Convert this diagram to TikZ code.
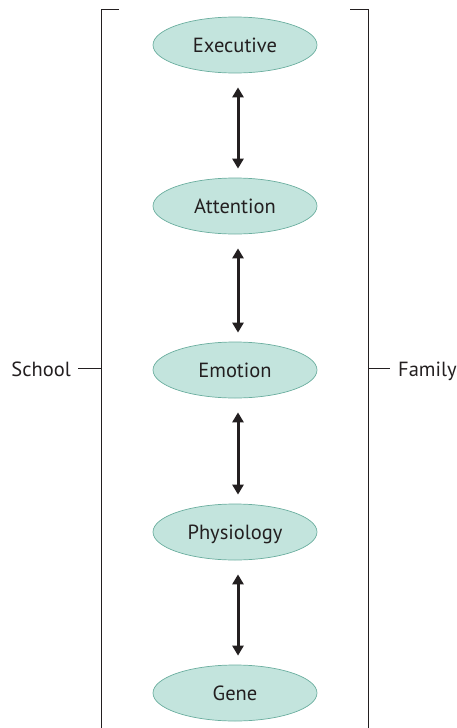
\documentclass[tikz,border=0pt]{standalone}
\usepackage{fontspec}
\setmainfont{PT Sans}
\usetikzlibrary{arrows.meta,shapes.geometric}
\definecolor{inkdark}{HTML}{231F20}
\definecolor{levelfill}{HTML}{C3E4DD}
\definecolor{leveledge}{HTML}{6BAE9F}
\tikzset{
  level/.style={ellipse, draw=leveledge, fill=levelfill, line width=0.7pt,
    minimum width=164pt, minimum height=56pt, inner sep=0pt,
    text height=14pt, text depth=0pt, text=inkdark,
    font=\fontsize{20.5}{24}\selectfont},
  side/.style={inner sep=0pt, text=inkdark, font=\fontsize{20.5}{24}\selectfont},
  link/.style={line width=3pt, draw=inkdark,
    {Triangle[length=10pt,width=11pt]}-{Triangle[length=10pt,width=11pt]}},
  frame/.style={line width=1pt, draw=inkdark}
}
\begin{document}
\begin{tikzpicture}[x=1pt, y=-1pt]
      \useasboundingbox (0,0) rectangle (456,728);
      %
      \node[level] (exec) at (235,45) {Executive};
      \node[level] (att)  at (235,206) {Attention};
      \node[level] (emo)  at (235,370) {Emotion};
      \node[level] (phys) at (235,532) {Physiology};
      \node[level] (gene) at (235,693) {Gene};
      %
      \draw[link] ([xshift=3pt, yshift=-14pt]exec.south) -- ([xshift=3pt, yshift=9pt]att.north);
      \draw[link] ([xshift=3pt, yshift=-14pt]att.south) -- ([xshift=3pt, yshift=9pt]emo.north);
      \draw[link] ([xshift=3pt, yshift=-14pt]emo.south) -- ([xshift=3pt, yshift=9pt]phys.north);
      \draw[link] ([xshift=3pt, yshift=-14pt]phys.south) -- ([xshift=3pt, yshift=9pt]gene.north);
      %
      \coordinate (lmid) at (101,368);
      \coordinate (rmid) at (368,368);
      \draw[frame] (119,9) -- (101,9) -- (101,728);
      \draw[frame] (350,9) -- (368,9) -- (368,728);
      %
      \node[side, anchor=base east] (school) at (71,376) {School};
      \node[side, anchor=base west] (family) at (398,376) {Family};
      \draw[frame, shorten <=7pt] (school.east |- lmid) -- (lmid);
      \draw[frame, shorten >=8pt] (rmid) -- (family.west |- rmid);
      %
    \end{tikzpicture}
\end{document}
